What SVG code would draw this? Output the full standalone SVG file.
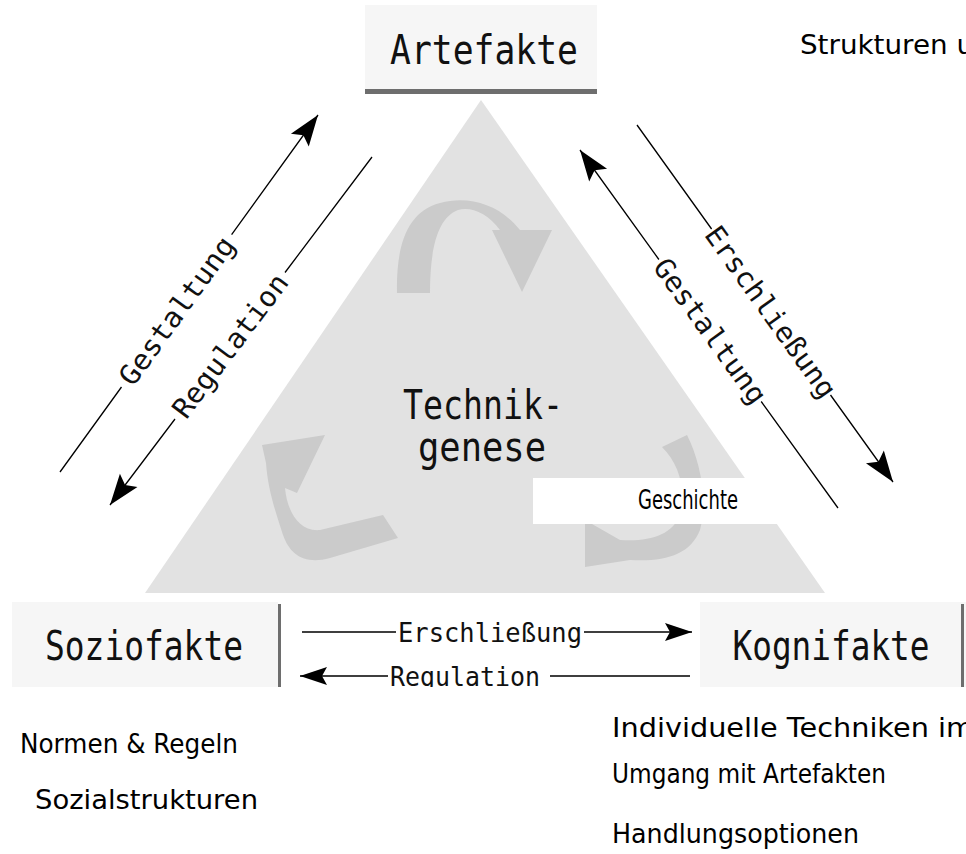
<svg xmlns="http://www.w3.org/2000/svg" width="966" height="854" viewBox="0 0 966 854">
<style>
.node{fill:#f6f6f6}
.bar{fill:#6e6e6e}
.nt{font-family:"DejaVu Sans Mono","Liberation Mono",monospace;font-size:40px;fill:#111}
.lt{font-family:"DejaVu Sans Mono","Liberation Mono",monospace;font-size:28px;fill:#111}
.bt{font-family:"DejaVu Sans Mono","Liberation Mono",monospace;font-size:27px;fill:#111}
.dt{font-family:"DejaVu Sans",Tahoma,sans-serif;font-size:26px;fill:#000}
.cyc{fill:#cbcbcb}
.ln{fill:none;stroke:#000;stroke-width:1.3}
</style>
<defs>
<marker id="arr" markerUnits="userSpaceOnUse" viewBox="-32 -13 34 26" markerWidth="34" markerHeight="26" refX="0" refY="0" orient="auto">
<path d="M0,0 L-31,-11 L-25,0 L-31,11 Z" fill="#000"/>
</marker>
<marker id="arrS" markerUnits="userSpaceOnUse" viewBox="-28 -10 30 20" markerWidth="30" markerHeight="20" refX="0" refY="0" orient="auto">
<path d="M0,0 L-27,-9 L-22,0 L-27,9 Z" fill="#000"/>
</marker>
<clipPath id="rowclip"><rect x="0" y="590" width="966" height="97"/></clipPath>
</defs>
<rect width="966" height="854" fill="#fff"/>

<g id="node-technikgenese">
<polygon points="481,100 825,593 145,593" fill="#e2e2e2"/>
<path class="cyc" d="M397 293 C396 250 405 212 440 203 C470 195 500 205 520 230 L552 230 L522 292 L492 230 L500 230 C488 213 470 206 458 210 C437 218 430 250 430 293 Z"/>
<path class="cyc" d="M266 463 L262 445 L325 435 L297 493 L285 488 C287 510 298 532 320 530 L383 515 L398 538 L330 558 C305 565 290 555 283 535 C275 510 268 490 266 463 Z"/>
<path class="cyc" d="M662 447 L687 435 C700 460 708 500 700 530 C690 555 665 562 630 560 L585 567 L585 520 L620 540 C650 542 672 535 680 515 C686 490 680 465 662 447 Z"/>
<text class="nt" x="483" y="419" text-anchor="middle" textLength="160" lengthAdjust="spacingAndGlyphs">Technik-</text>
<text class="nt" x="482" y="461" text-anchor="middle" textLength="128" lengthAdjust="spacingAndGlyphs">genese</text>
</g>

<g id="note-geschichte">
<rect x="533" y="478" width="294" height="46" fill="#fff"/>
<text class="dt" x="688" y="509" text-anchor="middle" textLength="100" lengthAdjust="spacingAndGlyphs">Geschichte</text>
</g>

<g id="node-artefakte">
<rect class="node" x="365" y="5" width="232" height="86"/>
<rect class="bar" x="365" y="89" width="232" height="5"/>
<text class="nt" x="484" y="64" text-anchor="middle" textLength="188" lengthAdjust="spacingAndGlyphs">Artefakte</text>
</g>

<g id="node-soziofakte">
<rect class="node" x="12" y="602" width="266" height="85"/>
<rect class="bar" x="278" y="604" width="3" height="83"/>
<text class="nt" x="144" y="660" text-anchor="middle" textLength="198" lengthAdjust="spacingAndGlyphs">Soziofakte</text>
</g>

<g id="node-kognifakte">
<rect class="node" x="700" y="602" width="266" height="85"/>
<rect class="bar" x="961" y="604" width="3" height="83"/>
<text class="nt" x="831" y="660" text-anchor="middle" textLength="197" lengthAdjust="spacingAndGlyphs">Kognifakte</text>
</g>

<g id="connectors">
<path class="ln" d="M302 632 L396 632 M584 632 L692 632" marker-end="url(#arrS)"/>
<text class="bt" x="490" y="642" text-anchor="middle" textLength="184" lengthAdjust="spacingAndGlyphs">Erschließung</text>
<path class="ln" d="M690 676 L550 676 M388 676 L300 676" marker-end="url(#arrS)"/>
<text class="bt" x="465" y="686" text-anchor="middle" textLength="150" lengthAdjust="spacingAndGlyphs" clip-path="url(#rowclip)">Regulation</text>
<path class="ln" d="M60 472 L121.5 387 M231.6 234.6 L318 115" marker-end="url(#arr)"/>
<text class="lt" transform="translate(176.6,310.7) rotate(-54.1)" x="0" y="10" text-anchor="middle" textLength="176" lengthAdjust="spacingAndGlyphs">Gestaltung</text>
<path class="ln" d="M372 157 L285 272.5 M175 419 L110 505" marker-end="url(#arr)"/>
<text class="lt" transform="translate(230,345.5) rotate(-53)" x="0" y="10" text-anchor="middle" textLength="172" lengthAdjust="spacingAndGlyphs">Regulation</text>
<path class="ln" d="M838 508 L761.2 401.5 M658.9 259.5 L580 150" marker-end="url(#arr)"/>
<text class="lt" transform="translate(710.4,330.9) rotate(54.2)" x="0" y="10" text-anchor="middle" textLength="172" lengthAdjust="spacingAndGlyphs">Gestaltung</text>
<path class="ln" d="M637 125 L711.6 229 M830.5 395 L893 482" marker-end="url(#arr)"/>
<text class="lt" transform="translate(771,311.9) rotate(54.4)" x="0" y="10" text-anchor="middle" textLength="204" lengthAdjust="spacingAndGlyphs">Erschließung</text>
</g>

<g id="descriptions">
<text class="dt" x="800" y="54" textLength="174" lengthAdjust="spacingAndGlyphs">Strukturen u</text>
<text class="dt" x="20" y="753" textLength="218" lengthAdjust="spacingAndGlyphs">Normen &amp; Regeln</text>
<text class="dt" x="35" y="809" textLength="223" lengthAdjust="spacingAndGlyphs">Sozialstrukturen</text>
<text class="dt" x="612" y="737" textLength="362" lengthAdjust="spacingAndGlyphs">Individuelle Techniken im</text>
<text class="dt" x="612" y="783" textLength="274" lengthAdjust="spacingAndGlyphs">Umgang mit Artefakten</text>
<text class="dt" x="612" y="843" textLength="247" lengthAdjust="spacingAndGlyphs">Handlungsoptionen</text>
</g>
</svg>
